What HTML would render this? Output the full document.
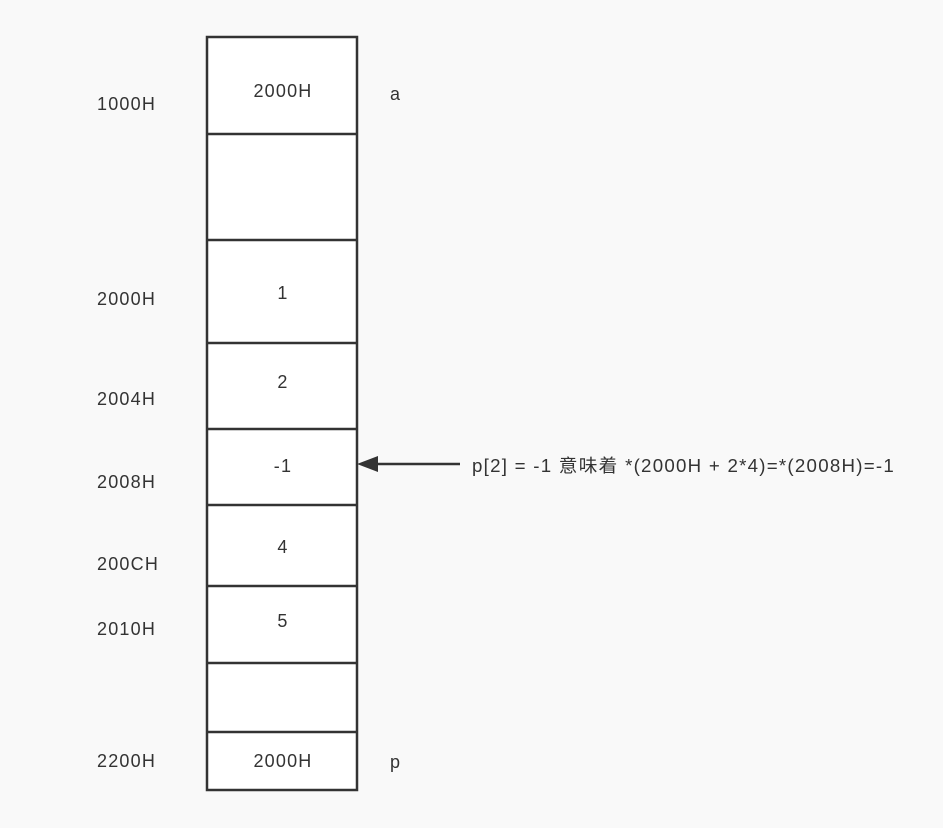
<!DOCTYPE html>
<html><head><meta charset="utf-8"><style>
body{margin:0;background:#f9f9f9;}
svg{display:block}
text{font-family:"Liberation Sans","Noto Sans CJK SC",sans-serif;font-size:18px;letter-spacing:1.2px;fill:#333;}
</style></head><body>
<svg width="943" height="828" viewBox="0 0 943 828">
<rect x="0" y="0" width="943" height="828" fill="#f9f9f9"/>
<rect x="207" y="37" width="150" height="753" fill="#fff" stroke="#333" stroke-width="2.5"/>
<g stroke="#333" stroke-width="2.5">
<line x1="207" y1="134" x2="357" y2="134"/>
<line x1="207" y1="240" x2="357" y2="240"/>
<line x1="207" y1="343" x2="357" y2="343"/>
<line x1="207" y1="429" x2="357" y2="429"/>
<line x1="207" y1="505" x2="357" y2="505"/>
<line x1="207" y1="586" x2="357" y2="586"/>
<line x1="207" y1="663" x2="357" y2="663"/>
<line x1="207" y1="732" x2="357" y2="732"/>
<line x1="375" y1="464" x2="460" y2="464"/>
</g>
<polygon points="357,464 378,456 378,472" fill="#333"/>
<g text-anchor="middle">
<text x="283" y="97">2000H</text>
<text x="283" y="299">1</text>
<text x="283" y="388">2</text>
<text x="283" y="472">-1</text>
<text x="283" y="553">4</text>
<text x="283" y="627">5</text>
<text x="283" y="767">2000H</text>
</g>
<text x="97" y="110">1000H</text>
<text x="97" y="305">2000H</text>
<text x="97" y="405">2004H</text>
<text x="97" y="488">2008H</text>
<text x="97" y="570">200CH</text>
<text x="97" y="635">2010H</text>
<text x="97" y="767">2200H</text>
<text x="390" y="100">a</text>
<text x="390" y="768">p</text>
<text x="472" y="472" textLength="423" lengthAdjust="spacingAndGlyphs">p[2] = -1 意味着 *(2000H + 2*4)=*(2008H)=-1</text>
</svg>
</body></html>
